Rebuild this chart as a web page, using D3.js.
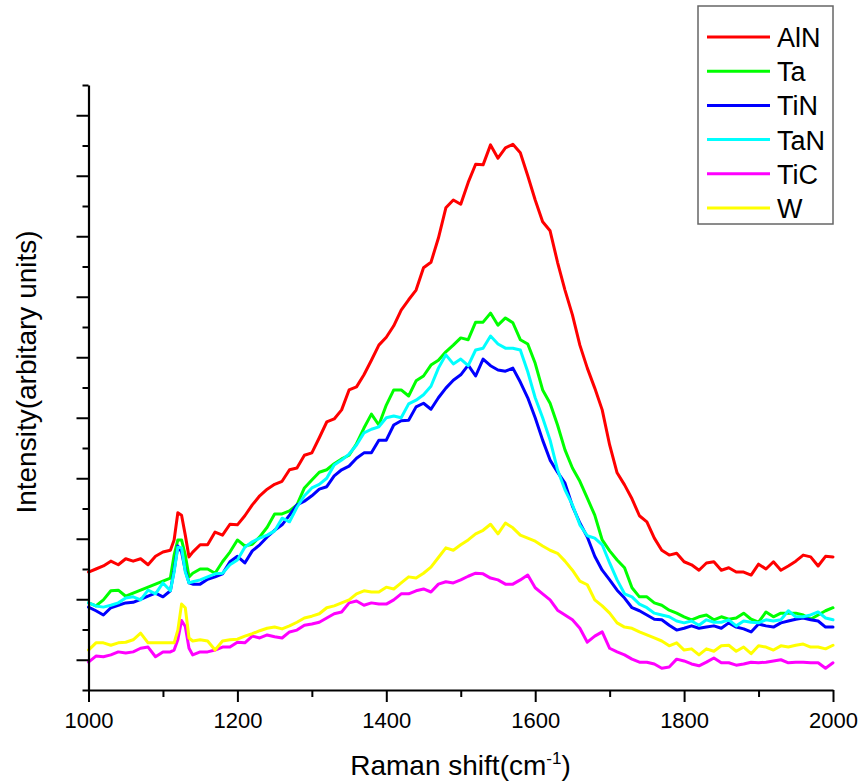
<!DOCTYPE html>
<html>
<head>
<meta charset="utf-8">
<script src="https://cdn.jsdelivr.net/npm/d3@7"></script>
<style>
  html, body { margin: 0; padding: 0; background: #fff; }
  svg { display: block; font-family: Arial, "Liberation Sans", sans-serif; }
</style>
</head>
<body>
<svg id="chart" width="860" height="784"></svg>
<script>
// Raman shift (cm^-1) sample positions
const shift = [1000,1010,1020,1030,1040,1050,1060,1070,1080,1090,1100,1110,
  1115,1120,1125,1130,1135,
  1140,1150,1160,1170,1180,1190,
  1200,1210,1220,1230,1240,1250,1260,1270,1280,1290,
  1300,1310,1320,1330,1340,1350,1360,1370,1380,1390,
  1400,1410,1420,1430,1440,1450,1460,1470,1480,1490,
  1500,1510,1520,1530,1540,1550,1560,1570,1580,1590,
  1600,1610,1620,1630,1640,1650,1660,1670,1680,1690,
  1700,1710,1720,1730,1740,1750,1760,1770,1780,1790,
  1800,1810,1820,1830,1840,1850,1860,1870,1880,1890,
  1900,1910,1920,1930,1940,1950,1960,1970,1980,1990,
  2000];

// Intensities (arbitrary units)
const AlN = [19.5,20.0,20.5,21.3,20.7,21.7,21.3,21.7,20.7,22.1,22.8,23.1,
  24.8,29.3,28.9,25.6,22.0,
  22.8,24.0,24.0,26.1,25.6,27.4,
  27.3,28.8,30.6,32.1,33.2,34.0,34.5,36.4,36.7,38.8,
  39.2,41.7,44.3,44.8,46.3,49.6,50.1,52.1,54.5,57.0,
  58.3,60.2,62.8,64.5,66.1,69.8,70.7,74.7,79.7,81.0,
  80.3,83.9,86.9,86.8,90.1,87.9,89.6,90.2,88.8,85.0,
  81.0,77.4,75.9,70.7,66.1,62.0,57.0,53.2,49.9,46.3,
  40.5,35.9,33.9,31.6,28.8,27.8,25.1,23.1,22.3,22.6,
  21.2,20.7,19.8,21.0,21.2,19.8,20.2,19.5,19.5,19.0,
  20.8,20.0,21.2,19.8,20.5,21.3,22.3,22.0,20.5,22.1,
  22.0];

const Ta = [14.4,13.9,14.9,16.4,16.5,15.5,16.0,16.5,17.0,17.5,18.0,18.5,
  22.3,24.8,24.8,22.3,18.7,
  19.3,20.0,20.0,19.3,21.2,22.8,
  24.8,23.8,24.1,25.3,26.9,29.1,29.1,29.6,30.6,33.4,
  34.7,36.0,36.4,37.4,38.2,38.8,40.7,43.3,45.6,43.8,
  47.1,49.6,49.6,48.6,51.1,51.9,53.7,54.5,55.9,57.0,
  58.2,57.9,60.8,60.8,62.3,60.3,61.5,60.7,57.9,57.2,
  54.0,49.6,47.4,43.8,39.7,36.7,34.5,31.7,28.9,24.8,
  23.0,21.5,20.2,16.9,15.4,15.4,14.4,14.0,13.2,12.7,
  12.1,11.6,12.1,12.4,11.6,12.1,11.7,11.9,12.7,11.7,
  11.2,12.9,12.1,12.7,12.7,12.7,12.4,11.7,12.4,13.1,
  13.6];

const TiN = [13.7,13.1,12.4,13.6,14.0,14.4,14.5,15.0,15.5,16.0,15.4,16.4,
  19.8,23.8,22.8,19.8,17.7,
  17.5,17.5,18.3,18.7,19.2,21.2,
  22.1,21.0,23.0,24.0,25.3,26.4,27.3,28.9,30.6,31.2,
  32.1,33.2,33.6,35.4,36.4,37.0,38.3,39.2,39.2,41.3,
  41.3,43.8,44.5,44.6,46.8,47.4,46.4,48.3,49.9,51.2,
  52.1,53.7,51.9,54.7,53.6,52.9,52.7,53.2,50.9,48.3,
  45.0,41.3,38.0,36.0,34.2,30.4,27.6,25.3,22.1,19.8,
  18.2,16.5,15.2,13.6,13.1,12.4,11.7,11.6,10.7,9.9,
  10.2,10.6,10.2,10.4,10.6,10.2,11.1,10.4,10.1,9.6,
  10.9,10.6,10.4,11.1,11.4,11.7,11.9,11.6,11.4,10.4,
  10.4];

const TaN = [14.4,13.9,13.7,14.0,14.4,15.2,15.4,14.9,16.5,15.9,17.7,16.4,
  19.5,23.6,23.5,19.5,17.7,
  17.9,18.2,18.7,19.2,19.3,20.7,
  21.5,23.6,24.5,25.1,25.6,26.3,28.4,27.8,30.2,32.1,
  33.4,34.0,35.0,37.2,38.0,39.0,40.5,42.5,43.1,43.5,
  45.0,45.3,45.0,47.3,47.9,48.8,50.2,53.2,55.4,53.9,
  54.7,53.6,56.2,56.5,58.5,57.2,56.5,56.5,56.2,52.6,
  48.3,45.0,41.3,36.4,33.1,30.6,27.3,25.5,25.1,24.0,
  21.0,18.2,15.9,15.4,14.2,13.6,12.7,12.4,12.1,11.4,
  11.1,11.4,10.7,11.6,11.2,11.2,11.6,10.6,11.4,11.2,
  11.1,11.6,11.4,11.6,13.1,12.1,12.1,12.4,12.9,11.9,
  11.6];

const TiC = [4.6,5.6,5.5,5.8,6.3,6.1,6.3,6.9,7.1,5.5,6.3,6.3,
  6.6,8.3,11.5,10.5,6.9,
  5.8,6.3,6.3,6.6,7.1,7.1,
  7.9,7.8,8.9,8.6,9.1,8.8,8.6,9.6,9.9,10.7,
  10.9,11.2,11.9,12.6,12.9,14.4,14.7,14.0,14.4,14.2,
  14.2,14.9,15.9,15.9,16.4,16.7,16.2,17.5,17.9,17.7,
  18.2,18.8,19.3,19.2,18.5,18.2,17.5,17.5,18.2,19.0,
  16.9,15.9,14.9,13.2,12.4,11.6,10.2,7.9,8.9,9.6,
  6.9,6.3,5.8,5.1,4.6,4.6,4.3,3.6,3.8,5.1,
  4.8,4.3,4.0,4.6,5.3,4.5,4.5,4.1,4.3,4.6,
  4.5,4.6,4.8,5.0,4.5,4.6,4.6,4.5,4.5,3.6,
  4.5];

const W = [6.6,7.8,7.8,7.4,7.8,7.9,8.3,9.4,7.8,7.8,7.8,7.8,
  7.8,9.9,14.2,13.6,8.6,
  8.1,8.3,8.1,6.6,8.1,8.3,
  8.4,8.9,9.3,9.8,10.2,10.4,10.1,10.6,11.2,11.9,
  12.2,12.6,13.6,13.9,14.4,14.9,15.9,16.4,16.2,16.2,
  17.0,16.7,17.7,18.7,18.5,19.3,20.3,21.9,23.5,23.1,
  24.0,24.8,25.8,26.4,27.4,25.8,27.6,26.8,25.6,25.1,
  24.6,23.8,23.1,22.6,21.3,19.8,18.0,17.4,14.9,13.9,
  12.7,11.1,10.4,10.2,9.6,9.1,8.6,8.1,7.3,7.8,
  6.6,6.8,5.8,6.8,6.4,7.3,7.4,6.4,7.1,6.0,
  7.3,7.1,6.6,7.3,7.1,7.4,7.6,7.1,7.1,6.8,
  7.4];

const seriesNames = ["AlN", "Ta", "TiN", "TaN", "TiC", "W"];
const seriesValues = [AlN, Ta, TiN, TaN, TiC, W];
const seriesColors = ["#ff0000", "#00ff00", "#0000ff", "#00ffff", "#ff00ff", "#ffff00"];

const xMajorTicks = [1000, 1200, 1400, 1600, 1800, 2000];
const xMinorTicks = [1100, 1300, 1500, 1700, 1900];
const yMajorTicks = [5, 15, 25, 35, 45, 55, 65, 75, 85, 95];
const yMinorTicks = [0, 10, 20, 30, 40, 50, 60, 70, 80, 90, 100];

const svg = d3.select("#chart");
const x = d3.scaleLinear().domain([1000, 2000]).range([88.5, 833]);
const y = d3.scaleLinear().domain([0, 100]).range([690, 85]);

// Curves
const line = d3.line()
  .x((d, i) => x(shift[i]))
  .y(d => y(d))
  .curve(d3.curveLinear);

const curves = svg.append("g").attr("class", "curves");
seriesValues.forEach((vals, k) => {
  curves.append("path")
    .datum(vals)
    .attr("d", line)
    .attr("fill", "none")
    .attr("stroke", seriesColors[k])
    .attr("stroke-width", 3)
    .attr("stroke-linejoin", "round")
    .attr("stroke-linecap", "round");
});

// X axis
const xAxis = svg.append("g").attr("transform", "translate(0,690)");
xAxis.call(d3.axisBottom(x).tickValues(xMajorTicks).tickSize(12).tickSizeOuter(0).tickPadding(10).tickFormat(d3.format("d")));
xAxis.append("g").call(d3.axisBottom(x).tickValues(xMinorTicks).tickSize(7).tickSizeOuter(0).tickFormat(""))
  .select(".domain").remove();
xAxis.selectAll(".domain").attr("stroke", "#000").attr("stroke-width", 2.2);
xAxis.selectAll(".tick line").attr("stroke", "#000").attr("stroke-width", 2);
xAxis.selectAll(".tick text")
  .attr("font-size", 22)
  .attr("fill", "#000")
  .attr("font-family", "Arial, 'Liberation Sans', sans-serif");

// Y axis (no labels)
const yAxis = svg.append("g").attr("transform", "translate(88.5,0)");
yAxis.call(d3.axisLeft(y).tickValues(yMajorTicks).tickSize(12).tickSizeOuter(0).tickFormat(""));
yAxis.append("g").call(d3.axisLeft(y).tickValues(yMinorTicks).tickSize(6).tickSizeOuter(0).tickFormat(""))
  .select(".domain").remove();
yAxis.selectAll(".domain").attr("stroke", "#000").attr("stroke-width", 2.2);
yAxis.selectAll(".tick line").attr("stroke", "#000").attr("stroke-width", 2);

// Axis titles
const xt = svg.append("text")
  .attr("x", 460.5).attr("y", 775)
  .attr("text-anchor", "middle")
  .attr("font-size", 28)
  .attr("fill", "#000");
xt.append("tspan").text("Raman shift(cm");
xt.append("tspan").attr("font-size", 17).attr("dy", -11).text("-1");
xt.append("tspan").attr("dy", 11).text(")");

svg.append("text")
  .attr("transform", "translate(36,372) rotate(-90)")
  .attr("text-anchor", "middle")
  .attr("font-size", 28)
  .attr("fill", "#000")
  .text("Intensity(arbitary units)");

// Legend
const legend = svg.append("g");
legend.append("rect")
  .attr("x", 698).attr("y", 6).attr("width", 135).attr("height", 218)
  .attr("fill", "#fff").attr("stroke", "#666").attr("stroke-width", 1.5);
seriesNames.forEach((name, k) => {
  const cy = 37 + k * 34.2;
  legend.append("line")
    .attr("x1", 707).attr("x2", 770).attr("y1", cy).attr("y2", cy)
    .attr("stroke", seriesColors[k]).attr("stroke-width", 3);
  legend.append("text")
    .attr("x", 777).attr("y", cy + 10)
    .attr("font-size", 27)
    .attr("fill", "#000")
    .text(name);
});
</script>
</body>
</html>
